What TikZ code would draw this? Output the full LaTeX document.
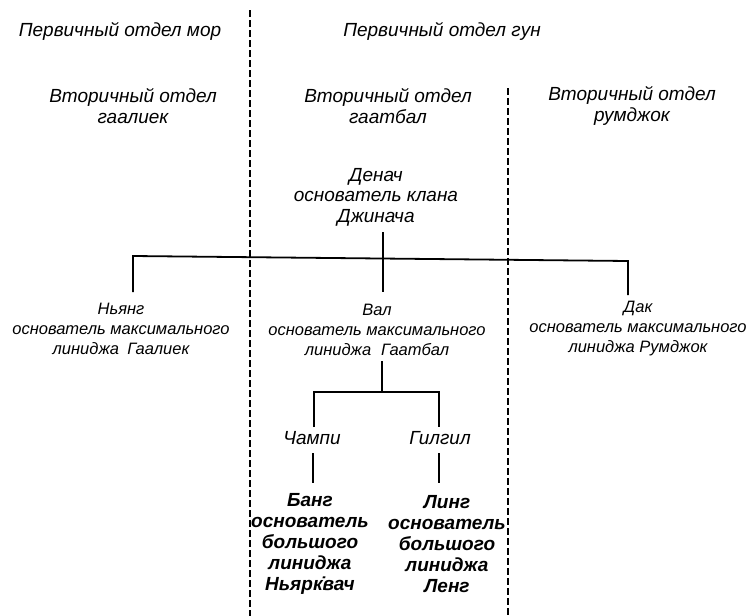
\documentclass[tikz,border=0pt]{standalone}
\usepackage{fontspec}
\setmainfont{Liberation Sans}
\begin{document}
\begin{tikzpicture}[x=1pt,y=-1pt,
  lbl/.style={font=\fontsize{19}{20.5}\selectfont\itshape, align=center, inner sep=0pt},
  midlbl/.style={font=\fontsize{16.5}{20}\selectfont\itshape, align=center, inner sep=0pt},
  lowlbl/.style={font=\fontsize{19}{21.2}\selectfont\bfseries\itshape, align=center, inner sep=0pt},
  tree/.style={line width=1.8pt},
  divider/.style={line width=1.1pt, dash pattern=on 7pt off 3pt}]
\useasboundingbox (0,0) rectangle (750,616);
% dividers
\coordinate (v1t) at (250,10);
\coordinate (v1b) at (250,616);
\coordinate (v2t) at (508,88);
\coordinate (v2b) at (508,616);
\draw[divider] (v1t) -- (v1b);
\draw[divider] (v2t) -- (v2b);
% headings
\node[lbl] (P1) at (120,31) {Первичный отдел мор};
\node[lbl] (P2) at (442,31) {Первичный отдел гун};
\node[lbl] (S1) at (133,106) {Вторичный отдел\\гаалиек};
\node[lbl] (S2) at (388,106) {Вторичный отдел\\гаатбал};
\node[lbl] (S3) at (632,106) {Вторичный отдел\\румджок};
% clan founder
\node[lbl] (D) at (376,197) {Денач\\основатель клана\\Джинача};
% maximal lineages
\node[midlbl] (N1) at (121,329) {Ньянг\\основатель максимального\\линиджа\hspace{0.5em}Гаалиек};
\node[midlbl] (N2) at (377,330) {Вал\\основатель максимального\\линиджа\hspace{0.6em}Гаатбал};
\node[midlbl] (N3) at (638,329) {Дак\\основатель максимального\\линиджа Румджок};
% sub lineages
\node[lbl] (C1) at (312,438) {Чампи};
\node[lbl] (C2) at (440,438) {Гилгил};
\node[lowlbl] (B1) at (310,544) {Банг\\основатель\\большого\\линиджа\\Ньярк̇вач};
\node[lowlbl] (B2) at (447,544) {Линг\\основатель\\большого\\линиджа\\Ленг};
% tree connectors
\coordinate (dTop) at (383,232);
\coordinate (hL) at (133,256);
\coordinate (hM) at (383,258.5);
\coordinate (hR) at (628,261);
\coordinate (dN1) at (133,292);
\coordinate (dN2) at (383,292);
\coordinate (dN3) at (628,295);
\draw[tree] (dTop) -- (hM) -- (dN2);
\draw[tree] (dN1) -- (hL) -- (hR) -- (dN3);
\coordinate (vTop) at (382,361);
\coordinate (vJ) at (382,392);
\coordinate (cL) at (314,392);
\coordinate (cR) at (439,392);
\coordinate (cLd) at (314,427);
\coordinate (cRd) at (439,427);
\draw[tree] (vTop) -- (vJ);
\draw[tree] (cLd) -- (cL) -- (cR) -- (cRd);
\coordinate (e1t) at (313,453);
\coordinate (e1b) at (313,483);
\coordinate (e2t) at (439,453);
\coordinate (e2b) at (439,483);
\draw[tree] (e1t) -- (e1b);
\draw[tree] (e2t) -- (e2b);
\end{tikzpicture}
\end{document}
